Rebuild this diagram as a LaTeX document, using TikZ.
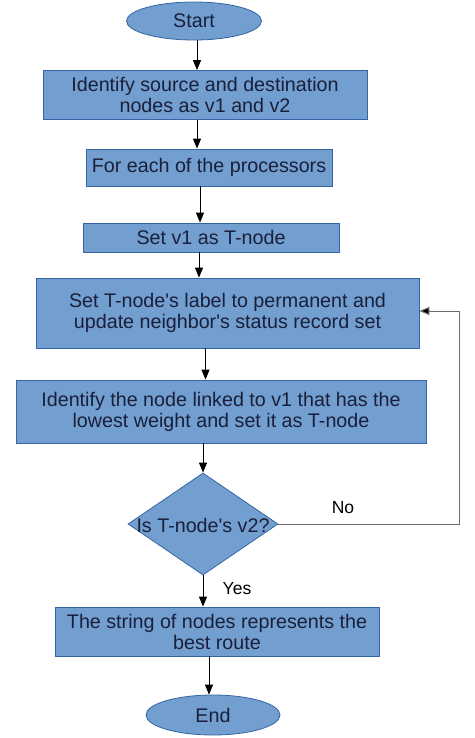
\documentclass[tikz,border=0pt]{standalone}
\usepackage{fontspec}
\setmainfont{Liberation Sans}
\usetikzlibrary{shapes.geometric,arrows.meta}
\definecolor{boxfill}{HTML}{729FCF}
\definecolor{boxline}{HTML}{3465A4}
\definecolor{txtcol}{HTML}{1A1F3A}
\newcommand{\apos}{\textquotesingle}
\tikzset{
  base/.style={draw=boxline, fill=boxfill, line width=0.8pt, text=txtcol, inner sep=0pt, align=center,
    font=\fontsize{19.7pt}{21pt}\selectfont},
  procbox/.style={base, rectangle},
  termbox/.style={base, ellipse},
  decbox/.style={draw=boxline, fill=boxfill, line width=0.8pt, diamond, inner sep=0pt},
  lbl/.style={text=black, font=\fontsize{17.5pt}{19pt}\selectfont, inner sep=0pt},
  arr/.style={line width=1pt, black, -{Triangle[width=8pt,length=10pt]}},
}
\begin{document}
\begin{tikzpicture}[x=1pt,y=-1pt]
\useasboundingbox (0,0) rectangle (474,738);
\node[termbox, minimum width=135pt, minimum height=38pt] (start) at (194,21) {Start};
\node[procbox, minimum width=324pt, minimum height=49pt] (b1) at (205,95) {Identify source and destination\\nodes as v1 and v2};
\node[procbox, minimum width=246pt, minimum height=37pt] (b2) at (209,167.5) {For each of the processors};
\node[procbox, minimum width=256pt, minimum height=29pt] (b3) at (211,237.5) {Set v1 as T-node};
\node[procbox, minimum width=383pt, minimum height=70pt] (b4) at (227.5,313) {Set T-node\apos s label to permanent and\\update neighbor\apos s status record set};
\node[procbox, minimum width=410pt, minimum height=63pt] (b5) at (221,411.5) {Identify the node linked to v1 that has the\\lowest weight and set it as T-node};
\node[decbox, minimum width=150pt, minimum height=102pt] (dia) at (203,524) {};
\node[base, draw=none, fill=none] (diatxt) at (203,525) {Is T-node\apos s v2?};
\node[procbox, minimum width=324pt, minimum height=49pt] (b6) at (217,631.5) {The string of nodes represents the\\best route};
\node[termbox, minimum width=134pt, minimum height=40pt] (end) at (213,715) {End};
\coordinate (noc) at (459,311);
\node[lbl] (nolbl) at (343,508) {No};
\node[lbl] (yeslbl) at (237,589) {Yes};
\draw[arr] ([xshift=3pt]start.south) -- ([xshift=3pt]start.south |- b1.north);
\draw[arr] ([xshift=-8pt]b1.south) -- ([xshift=-8pt]b1.south |- b2.north);
\draw[arr] ([xshift=-9pt]b2.south) -- ([xshift=-9pt]b2.south |- b3.north);
\draw[arr] ([xshift=-12pt]b3.south) -- ([xshift=-12pt]b3.south |- b4.north);
\draw[arr] ([xshift=-22pt]b4.south) -- ([xshift=-22pt]b4.south |- b5.north);
\draw[arr] (dia.north |- b5.south) -- (dia.north);
\draw[arr] (dia.south) -- (dia.south |- b6.north);
\draw[arr] ([xshift=-8pt]b6.south) -- ([xshift=-8pt]b6.south |- end.north);
\draw[line width=1pt, draw=gray!85!black, -{Triangle[width=8pt,length=10pt,fill=black]}] (dia.east) -| (noc) -- (b4.east |- noc);
\end{tikzpicture}
\end{document}
